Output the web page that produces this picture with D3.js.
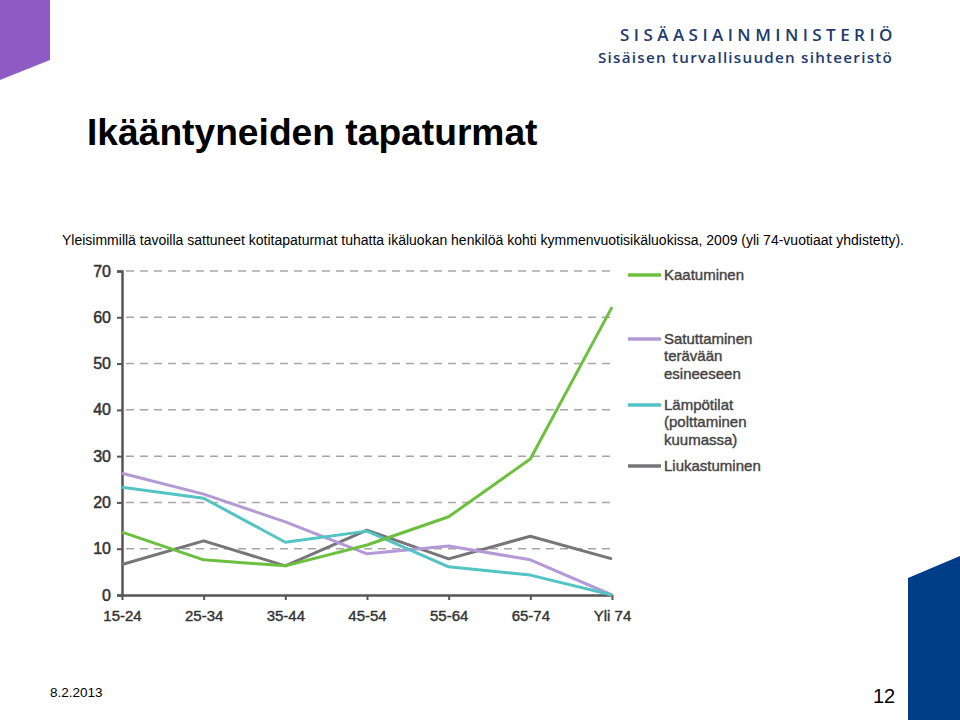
<!DOCTYPE html>
<html><head><meta charset="utf-8">
<script src="https://cdn.jsdelivr.net/npm/d3@7"></script>
<style>body{margin:0;background:#fff}svg{display:block}</style>
</head><body>
<svg id="c" width="960" height="720"></svg>
<script>
const categories = ["15-24","25-34","35-44","45-54","55-64","65-74","Yli 74"];
const kaatuminen = [13.6, 7.6, 6.3, 10.8, 16.9, 29.4, 62.2];
const satuttaminen = [26.3, 21.8, 15.8, 8.9, 10.6, 7.6, 0];
const lampotilat = [23.3, 20.9, 11.4, 13.8, 6.1, 4.3, 0];
const liukastuminen = [6.6, 11.7, 6.3, 14.0, 7.8, 12.7, 7.8];
const yTicks = [0,10,20,30,40,50,60,70];
const seriesNames = [["Kaatuminen"],["Satuttaminen","terävään","esineeseen"],["Lämpötilat","(polttaminen","kuumassa)"],["Liukastuminen"]];
const colors = ["#6dbf3f","#b39ad6","#52c4c4","#76767a"];

const svg = d3.select("#c");
const font = "Liberation Sans, Arial, sans-serif";
// decorations
svg.append("polygon").attr("points","0,0 50,0 50,60 0,80").attr("fill","#8f5cc6");
svg.append("polygon").attr("points","908,578 960,556 960,720 908,720").attr("fill","#003d88");
svg.append("text").attr("x",620).attr("y",41).attr("font-family","'Open Sans',sans-serif").attr("font-weight",600).attr("font-size",17).attr("letter-spacing",4.45).attr("fill","#1d3b6e").text("SISÄASIAINMINISTERIÖ");
svg.append("text").attr("x",598).attr("y",63).attr("font-family","'Open Sans',sans-serif").attr("font-weight",600).attr("font-size",15.2).attr("letter-spacing",1.25).attr("fill","#1d3b6e").text("Sisäisen turvallisuuden sihteeristö");
svg.append("text").attr("x",87).attr("y",145).attr("font-family",font).attr("font-weight","bold").attr("font-size",37.2).attr("fill","#000").text("Ikääntyneiden tapaturmat");
svg.append("text").attr("x",62).attr("y",245).attr("font-family",font).attr("font-size",14).attr("fill","#000").text("Yleisimmillä tavoilla sattuneet kotitapaturmat tuhatta ikäluokan henkilöä kohti kymmenvuotisikäluokissa, 2009 (yli 74-vuotiaat yhdistetty).");
svg.append("text").attr("x",50).attr("y",697).attr("font-family",font).attr("font-size",13.5).attr("fill","#000").text("8.2.2013");
svg.append("text").attr("x",873).attr("y",703).attr("font-family",font).attr("font-size",20).attr("fill","#000").text("12");

// chart
const x = d3.scalePoint().domain(categories).range([122,612]);
const y = d3.scaleLinear().domain([0,70]).range([595,271]);

const grid = svg.append("g");
grid.selectAll("line").data(yTicks.filter(d=>d>0)).join("line")
  .attr("x1",126).attr("x2",612).attr("y1",d=>y(d)).attr("y2",d=>y(d))
  .attr("stroke","#a6a6a6").attr("stroke-width",1.5).attr("stroke-dasharray","8,6");

const yAxis = svg.append("g").attr("transform","translate(122,0)")
  .call(d3.axisLeft(y).tickValues(yTicks).tickSize(5).tickPadding(6));
yAxis.select(".domain").attr("stroke","#555").attr("stroke-width",2.5);
yAxis.selectAll(".tick line").attr("stroke","#555").attr("stroke-width",2);
yAxis.selectAll("text").attr("font-family",font).attr("font-size",16).attr("fill","#333")
  .attr("stroke","#333").attr("stroke-width",0.5);

const xAxis = svg.append("g").attr("transform","translate(0,595)")
  .call(d3.axisBottom(x).tickSize(5).tickSizeOuter(0).tickPadding(10));
xAxis.select(".domain").attr("stroke","#555").attr("stroke-width",2.5);
xAxis.selectAll(".tick line").attr("stroke","#555").attr("stroke-width",2);
xAxis.selectAll("text").attr("font-family",font).attr("font-size",15).attr("fill","#333")
  .attr("stroke","#333").attr("stroke-width",0.4);

const allSeries = [kaatuminen, satuttaminen, lampotilat, liukastuminen];
const line = d3.line().x((d,i)=>x(categories[i])).y(d=>y(d));
[3,1,2,0].forEach(k=>{
  svg.append("path").attr("d",line(allSeries[k])).attr("fill","none")
    .attr("stroke",colors[k]).attr("stroke-width",3).attr("stroke-linejoin","round");
});

// legend
const legY = [275, 339, 405, 466];
seriesNames.forEach((names,k)=>{
  svg.append("line").attr("x1",628).attr("x2",661).attr("y1",legY[k]).attr("y2",legY[k])
    .attr("stroke",colors[k]).attr("stroke-width",3.5);
  names.forEach((t,j)=>{
    svg.append("text").attr("x",664).attr("y",legY[k]+5+j*17.3).attr("font-family",font)
      .attr("font-size",15).attr("fill","#444").attr("stroke","#444").attr("stroke-width",0.4).text(t);
  });
});
</script>
</body></html>
